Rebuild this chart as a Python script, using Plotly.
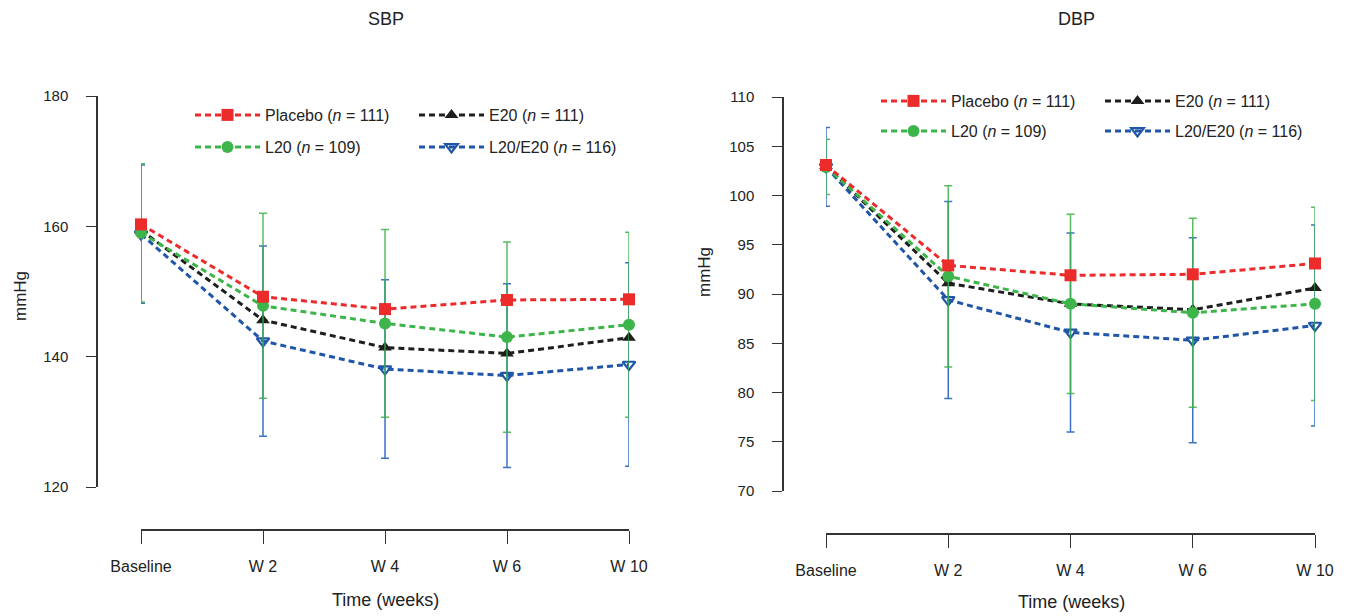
import plotly.graph_objects as go

W, H = 1355, 616

timepoints = ["Baseline", "W 2", "W 4", "W 6", "W 10"]

# SBP (mmHg)
sbp_placebo = [160.3, 149.2, 147.3, 148.7, 148.8]
sbp_l20 = [159.0, 147.8, 145.1, 143.0, 144.9]
sbp_e20 = [159.4, 145.6, 141.4, 140.5, 142.9]
sbp_combo = [158.8, 142.4, 138.1, 137.1, 138.8]
sbp_l20_sd = [10.6, 14.2, 14.4, 14.6, 14.2]
sbp_combo_sd = [10.6, 14.6, 13.7, 14.1, 15.6]

# DBP (mmHg)
dbp_placebo = [103.1, 92.9, 91.9, 92.0, 93.1]
dbp_l20 = [102.9, 91.8, 89.0, 88.1, 89.0]
dbp_e20 = [103.0, 91.1, 89.0, 88.4, 90.6]
dbp_combo = [102.9, 89.4, 86.1, 85.3, 86.8]
dbp_l20_sd = [2.8, 9.2, 9.1, 9.6, 9.8]
dbp_combo_sd = [4.0, 10.0, 10.1, 10.4, 10.2]

names = {
    "placebo": "Placebo (<i>n</i> = 111)",
    "l20": "L20 (<i>n</i> = 109)",
    "e20": "E20 (<i>n</i> = 111)",
    "combo": "L20/E20 (<i>n</i> = 116)",
}

RED = "#ec2b2b"
GREEN = "#3db54a"
BLACK = "#1e1e1e"
BLUE = "#1f56a8"
ERR_GREEN = "rgba(60,178,72,0.85)"
ERR_BLUE = "#3c72c4"

FONT = "Liberation Sans, Arial, sans-serif"


def fx(px):
    return px / W


def fy(py):
    return 1 - py / H


fig = go.Figure()


def add_panel(xa, ya, placebo, l20, e20, combo, l20_sd, combo_sd, leg_a, leg_b):
    dash = "6px,4px"
    fig.add_trace(go.Scatter(
        x=timepoints, y=combo, name=names["combo"], mode="lines+markers",
        line=dict(color=BLUE, width=3, dash=dash),
        marker=dict(symbol="triangle-down-open", size=11, color=BLUE, line=dict(width=2.2, color=BLUE)),
        error_y=dict(type="data", array=combo_sd, visible=True, color=ERR_BLUE, thickness=1.5, width=4),
        xaxis=xa, yaxis=ya, legend=leg_b, legendrank=2, cliponaxis=False))
    fig.add_trace(go.Scatter(
        x=timepoints, y=e20, name=names["e20"], mode="lines+markers",
        line=dict(color=BLACK, width=3, dash=dash),
        marker=dict(symbol="triangle-up", size=12, color=BLACK),
        xaxis=xa, yaxis=ya, legend=leg_a, legendrank=2, cliponaxis=False))
    fig.add_trace(go.Scatter(
        x=timepoints, y=l20, name=names["l20"], mode="lines+markers",
        line=dict(color=GREEN, width=3, dash=dash),
        marker=dict(symbol="circle", size=12, color=GREEN),
        error_y=dict(type="data", array=l20_sd, visible=True, color=ERR_GREEN, thickness=1.5, width=4),
        xaxis=xa, yaxis=ya, legend=leg_b, legendrank=1, cliponaxis=False))
    fig.add_trace(go.Scatter(
        x=timepoints, y=placebo, name=names["placebo"], mode="lines+markers",
        line=dict(color=RED, width=3, dash=dash),
        marker=dict(symbol="square", size=12, color=RED),
        xaxis=xa, yaxis=ya, legend=leg_a, legendrank=1, cliponaxis=False))


add_panel("x", "y", sbp_placebo, sbp_l20, sbp_e20, sbp_combo, sbp_l20_sd, sbp_combo_sd, "legend", "legend2")
add_panel("x2", "y2", dbp_placebo, dbp_l20, dbp_e20, dbp_combo, dbp_l20_sd, dbp_combo_sd, "legend3", "legend4")

xcommon = dict(type="category", range=[0, 4], anchor="free", showline=True, linecolor="#333",
               linewidth=1.5, ticks="outside", ticklen=13, tickwidth=1.2, tickcolor="#333",
               showgrid=False, zeroline=False, tickfont=dict(size=16, color="#222", family=FONT),
               ticklabelstandoff=9)
ycommon = dict(anchor="free", showline=True, linecolor="#333", linewidth=1.5, ticks="outside",
               ticklen=10, tickwidth=1.2, tickcolor="#333", showgrid=False, zeroline=False,
               tickfont=dict(size=15, color="#222", family=FONT), ticklabelstandoff=15)

legcommon = dict(orientation="h", xanchor="left", yanchor="middle", bgcolor="rgba(0,0,0,0)",
                 font=dict(size=16, color="#222", family=FONT), itemwidth=65,
                 entrywidthmode="pixels", entrywidth=144, traceorder="normal")


def ann(text, px, py, size, angle=0):
    return dict(text=text, x=fx(px), y=fy(py), xref="paper", yref="paper", showarrow=False,
                xanchor="center", yanchor="middle", textangle=angle,
                font=dict(size=size, color="#222", family=FONT))


fig.update_layout(
    width=W, height=H,
    margin=dict(l=0, r=0, t=0, b=0, autoexpand=False),
    paper_bgcolor="white", plot_bgcolor="white",
    font=dict(family=FONT, color="#222"),
    xaxis=dict(domain=[fx(141), fx(629)], position=fy(530), **xcommon),
    yaxis=dict(domain=[fy(487), fy(96)], position=fx(97), range=[120, 180], tick0=120, dtick=20, **ycommon),
    xaxis2=dict(domain=[fx(826), fx(1315)], position=fy(534), **xcommon),
    yaxis2=dict(domain=[fy(491), fy(97)], position=fx(783), range=[70, 110], tick0=70, dtick=5, **ycommon),
    legend=dict(x=fx(190), y=fy(115), **legcommon),
    legend2=dict(x=fx(190), y=fy(147), **legcommon),
    legend3=dict(x=fx(876), y=fy(101), **legcommon),
    legend4=dict(x=fx(876), y=fy(131), **legcommon),
    annotations=[
        ann("SBP", 386, 19, 18),
        ann("DBP", 1076, 19, 18),
        ann("mmHg", 20, 296, 17, -90),
        ann("mmHg", 705, 272, 17, -90),
        ann("Time (weeks)", 385, 600, 18),
        ann("Time (weeks)", 1071, 602, 18),
    ],
)

fig.write_html("out.html")
